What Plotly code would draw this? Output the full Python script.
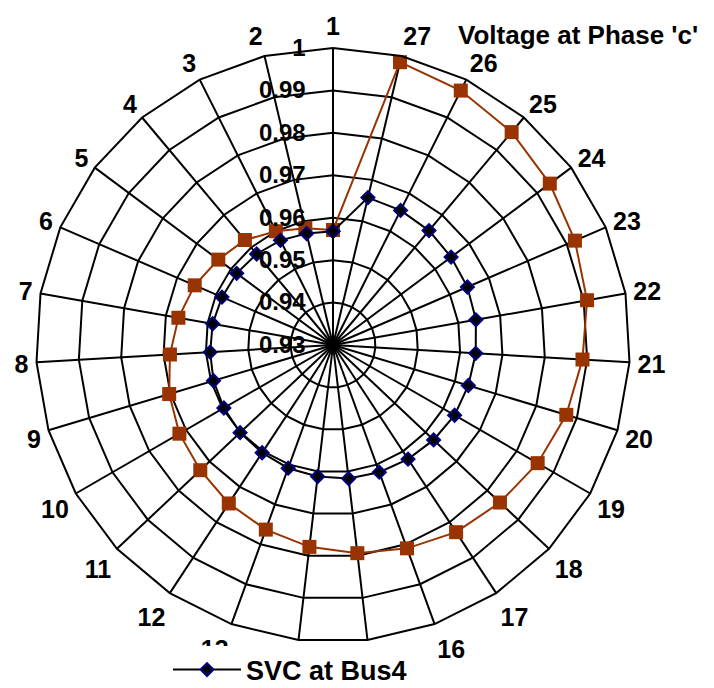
import plotly.graph_objects as go

categories = ["1", "2", "3", "4", "5", "6", "7", "8", "9", "10", "11", "12", "13", "14",
              "15", "16", "17", "18", "19", "20", "21", "22", "23", "24", "25", "26", "27"]

svc_bus4 = [0.9568, 0.9570, 0.9576, 0.9580, 0.9583, 0.9585, 0.9588, 0.9590, 0.9594,
            0.9597, 0.9601, 0.9604, 0.9609, 0.9612, 0.9617, 0.9619, 0.9622, 0.9626,
            0.9631, 0.9633, 0.9637, 0.9642, 0.9645, 0.9647, 0.9652, 0.9655, 0.9657]

without_svc = [0.9571, 0.9583, 0.9600, 0.9623, 0.9637, 0.9655, 0.9670, 0.9685, 0.9703,
               0.9718, 0.9730, 0.9747, 0.9763, 0.9779, 0.9794, 0.9810, 0.9828, 0.9841,
               0.9857, 0.9874, 0.9889, 0.9908, 0.9921, 0.9937, 0.9955, 0.9971, 0.9985]

radial_ticks = [0.93, 0.94, 0.95, 0.96, 0.97, 0.98, 0.99, 1.0]
radial_labels = ["0.93", "0.94", "0.95", "0.96", "0.97", "0.98", "0.99", "1"]

title_text = "Voltage at Phase 'c'"

FONT = "Liberation Sans, Arial, sans-serif"

fig = go.Figure()

fig.add_trace(go.Scatterpolar(
    r=without_svc + without_svc[:1],
    theta=categories + categories[:1],
    mode="lines+markers",
    name="Without SVC",
    showlegend=False,
    line=dict(color="#993300", width=2),
    marker=dict(symbol="square", size=14, color="#993300"),
))

fig.add_trace(go.Scatterpolar(
    r=svc_bus4 + svc_bus4[:1],
    theta=categories + categories[:1],
    mode="lines+markers",
    name="SVC at Bus4",
    line=dict(color="black", width=2),
    marker=dict(symbol="diamond", size=10, color="black",
                line=dict(color="#000080", width=2)),
))

# the page body adds an 8 px offset, so the figure is sized/positioned to compensate
W, H = 706, 680
cx, cy, R = 325, 337, 297

fig.update_layout(
    width=W, height=H,
    margin=dict(l=0, r=0, t=0, b=0, autoexpand=False),
    paper_bgcolor="white",
    plot_bgcolor="white",
    font=dict(family=FONT, color="black"),
    polar=dict(
        domain=dict(x=[(cx - R) / W, (cx + R) / W],
                    y=[(H - cy - R) / H, (H - cy + R) / H]),
        bgcolor="white",
        gridshape="linear",
        radialaxis=dict(
            range=[0.93, 1.0],
            tickvals=radial_ticks,
            ticktext=radial_labels,
            angle=90,
            tickangle=90,
            side="counterclockwise",
            showline=True,
            linecolor="black",
            linewidth=2,
            gridcolor="black",
            gridwidth=2,
            ticks="outside",
            ticklen=18,
            tickcolor="rgba(0,0,0,0)",
            tickfont=dict(family=FONT, size=24, color="black", weight="bold"),
        ),
        angularaxis=dict(
            type="category",
            categoryarray=categories,
            direction="counterclockwise",
            rotation=90,
            showline=True,
            linecolor="black",
            linewidth=2,
            gridcolor="black",
            gridwidth=2,
            ticks="outside",
            ticklen=2,
            tickcolor="rgba(0,0,0,0)",
            tickfont=dict(family=FONT, size=25, color="black", weight="bold"),
        ),
    ),
    showlegend=True,
    legend=dict(
        x=160 / W, y=18 / H, xanchor="left", yanchor="middle",
        orientation="h",
        bgcolor="white",
        font=dict(family=FONT, size=27, color="black", weight="bold"),
        itemwidth=68,
    ),
    annotations=[dict(
        text=title_text, x=448 / W, y=(H - 27) / H, xref="paper", yref="paper",
        xanchor="left", yanchor="middle", showarrow=False,
        font=dict(family=FONT, size=26, color="black", weight="bold"),
    )],
)

fig.write_html("out.html")
